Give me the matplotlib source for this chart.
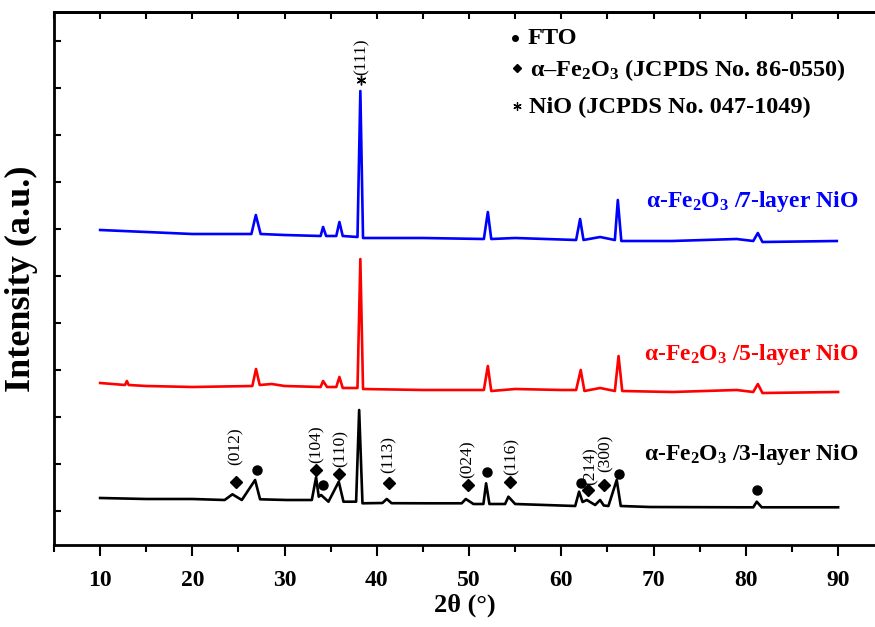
import numpy as np
import matplotlib
matplotlib.use("Agg")
import matplotlib.pyplot as plt
from matplotlib.ticker import MultipleLocator, FixedLocator, NullFormatter

plt.rcParams['font.family'] = ['Liberation Serif', 'DejaVu Serif']
plt.rcParams['mathtext.fontset'] = 'custom'
plt.rcParams['mathtext.rm'] = 'Liberation Serif:bold'
plt.rcParams['mathtext.it'] = 'Liberation Serif:bold'
plt.rcParams['mathtext.bf'] = 'Liberation Serif:bold'

# --- XRD scans, vertices (2theta in deg, intensity a.u.) ---
tt_3 = [10, 15, 20, 23.5, 24.34, 25.36, 26.8, 27.34, 30.24, 32.95, 33.41, 33.7, 33.96,
        34.75, 35.87, 36.38, 37.75, 38.08, 38.44, 40.6, 41.07, 41.6, 45.4, 49.2, 49.64,
        50.47, 51.55, 51.84, 52.2, 53.9, 54.26, 54.99, 61.5, 61.92, 62.3, 62.76, 63.66,
        64.2, 64.6, 65.1, 66.0, 66.44, 69.6, 79.4, 80.8, 81.18, 81.72, 90]
int_3 = [47, 46, 46, 45, 50.7, 45, 65, 45.7, 45, 45, 67.7, 48.3, 50,
         43.3, 63.3, 43.3, 43.3, 135, 41.7, 42, 46, 41.8, 41.7, 41.7, 46,
         41, 41, 61.7, 41, 41, 48.3, 41, 39, 53.3, 43, 45, 40,
         45, 39.5, 39, 65, 39, 38, 37.7, 37.7, 43.3, 37.7, 37.7]

tt_5 = [10, 12.7, 12.9, 13.1, 15, 20, 26.5, 26.9, 27.3, 28.6, 30, 33.9, 34.17, 34.6,
        35.6, 35.94, 36.3, 37.9, 38.21, 38.5, 45, 51.6, 52.03, 52.4, 55, 60, 61.6,
        62.1, 62.5, 64.2, 65.8, 66.2, 66.6, 72, 79, 80.8, 81.3, 81.8, 90]
int_5 = [162, 160, 164, 160, 159, 158, 159, 176, 160, 161, 159, 158, 164, 158,
         158, 168, 157, 157, 286, 156, 155, 155, 179, 154, 156, 155, 155,
         175, 154, 157, 154, 189, 154, 153, 155, 153, 161, 152, 153]

tt_7 = [10, 15, 20, 26.4, 26.88, 27.4, 30, 33.9, 34.17, 34.5, 35.6, 35.94, 36.3,
        37.9, 38.21, 38.5, 45, 51.6, 52.03, 52.4, 55, 61.6, 62.03, 62.4, 64.2,
        65.8, 66.12, 66.5, 72, 79, 80.8, 81.3, 81.8, 89.86]
int_7 = [315, 313, 311, 311, 330, 311, 310, 309, 318, 309, 309, 323, 309,
         308, 454, 307, 307, 306, 333, 306, 307, 305, 326, 305, 308,
         305, 345, 304, 304, 306, 304, 312, 303, 304]

# --- phase markers on the 3-layer scan ---
fe2o3_tt = [24.74, 33.42, 35.94, 41.33, 49.87, 54.47, 62.9, 64.6]
fe2o3_y = [63, 75, 71, 62, 60, 63, 55, 60]
fto_tt = [26.99, 34.17, 51.93, 62.14, 66.2, 81.2]
fto_y = [75, 60, 73, 62, 71, 55]
hkl = ['(012)', '(104)', '(110)', '(113)', '(024)', '(116)', '(214)', '(300)']
hkl_tt = [24.74, 33.52, 36.02, 41.33, 49.89, 54.66, 63.12, 64.85]
hkl_y = [80, 82, 78, 72, 67, 70, 60, 73]

W, H = 875, 627
fig = plt.figure(figsize=(W / 100, H / 100), dpi=100)
ax = fig.add_axes([54 / W, 1 - 545 / H, 1 - 54 / W, (545 - 12) / H])

lw = 1.9
ax.plot(tt_3, int_3, color='black', lw=lw)
ax.plot(tt_5, int_5, color='#ff0000', lw=lw)
ax.plot(tt_7, int_7, color='#0000ff', lw=lw)

ax.plot(fe2o3_tt, fe2o3_y, 'D', color='black', ms=6.5, ls='none')
ax.plot(fto_tt, fto_y, 'o', color='black', ms=6.5, ls='none')
for t, x, y in zip(hkl, hkl_tt, hkl_y):
    ax.text(x, y, t, rotation=90, ha='center', va='bottom', fontsize=12.5)

# NiO (111)
ax.plot([38.27], [465], marker=(6, 2, 0), color='black', ms=7, mew=1, ls='none')
ax.text(38.3, 470, '(111)', rotation=90, ha='center', va='bottom', fontsize=12.5)

# sample labels
lab_kw = dict(ha='right', va='baseline', fontsize=17, fontweight='bold')
ax.text(92.2, 338, r'α-Fe$_2$O$_3$ /7-layer NiO', color='#0000ff', **lab_kw)
ax.text(92.2, 185, r'α-Fe$_2$O$_3$ /5-layer NiO', color='#ff0000', **lab_kw)
ax.text(92.2, 85, r'α-Fe$_2$O$_3$ /3-layer NiO', color='black', **lab_kw)

# phase key, top right
def fpx(x, y):
    return x / W, 1 - y / H

ax.plot(*fpx(515, 38), 'o', color='black', ms=4, transform=fig.transFigure, clip_on=False)
ax.plot(*fpx(517, 68), 'D', color='black', ms=4.5, transform=fig.transFigure, clip_on=False)
ax.plot(*fpx(517, 106), marker=(6, 2, 0), color='black', ms=6, mew=0.9,
        transform=fig.transFigure, clip_on=False)
key_kw = dict(ha='left', va='baseline', fontsize=17.5, fontweight='bold')
fig.text(*fpx(528, 44), 'FTO', **key_kw)
fig.text(*fpx(530, 76), r'α–Fe$_2$O$_3$ (JCPDS No. 86-0550)', **key_kw)
fig.text(*fpx(529, 113), 'NiO (JCPDS No. 047-1049)', **key_kw)

ax.set_xlim(5, 94.0)
ax.set_ylim(0, 533)
ax.xaxis.set_major_locator(MultipleLocator(10))
ax.xaxis.set_minor_locator(MultipleLocator(5))
ax.yaxis.set_major_locator(FixedLocator(np.arange(34, 533, 47)))
ax.yaxis.set_major_formatter(NullFormatter())
ax.tick_params(axis='x', which='major', direction='out', length=8, width=1.5,
               labelsize=17, pad=10)
ax.tick_params(axis='x', which='minor', direction='out', length=5, width=1.5)
ax.tick_params(axis='y', direction='in', length=5, width=1.5)
for lbl in ax.get_xticklabels():
    lbl.set_fontweight('bold')

# inward ticks along the top edge
top = ax.secondary_xaxis('top')
top.xaxis.set_major_locator(MultipleLocator(5))
top.xaxis.set_major_formatter(NullFormatter())
top.tick_params(direction='in', length=5, width=1.5)
top.spines['top'].set_linewidth(2)

for s in ['left', 'bottom', 'top']:
    ax.spines[s].set_linewidth(2)
ax.spines['right'].set_visible(False)

ax.set_xlabel('2θ (°)', fontsize=19, fontweight='bold', labelpad=2)
ax.set_ylabel('Intensity (a.u.)', fontsize=26, fontweight='bold', labelpad=8)

fig.savefig('out.png', dpi=100)
